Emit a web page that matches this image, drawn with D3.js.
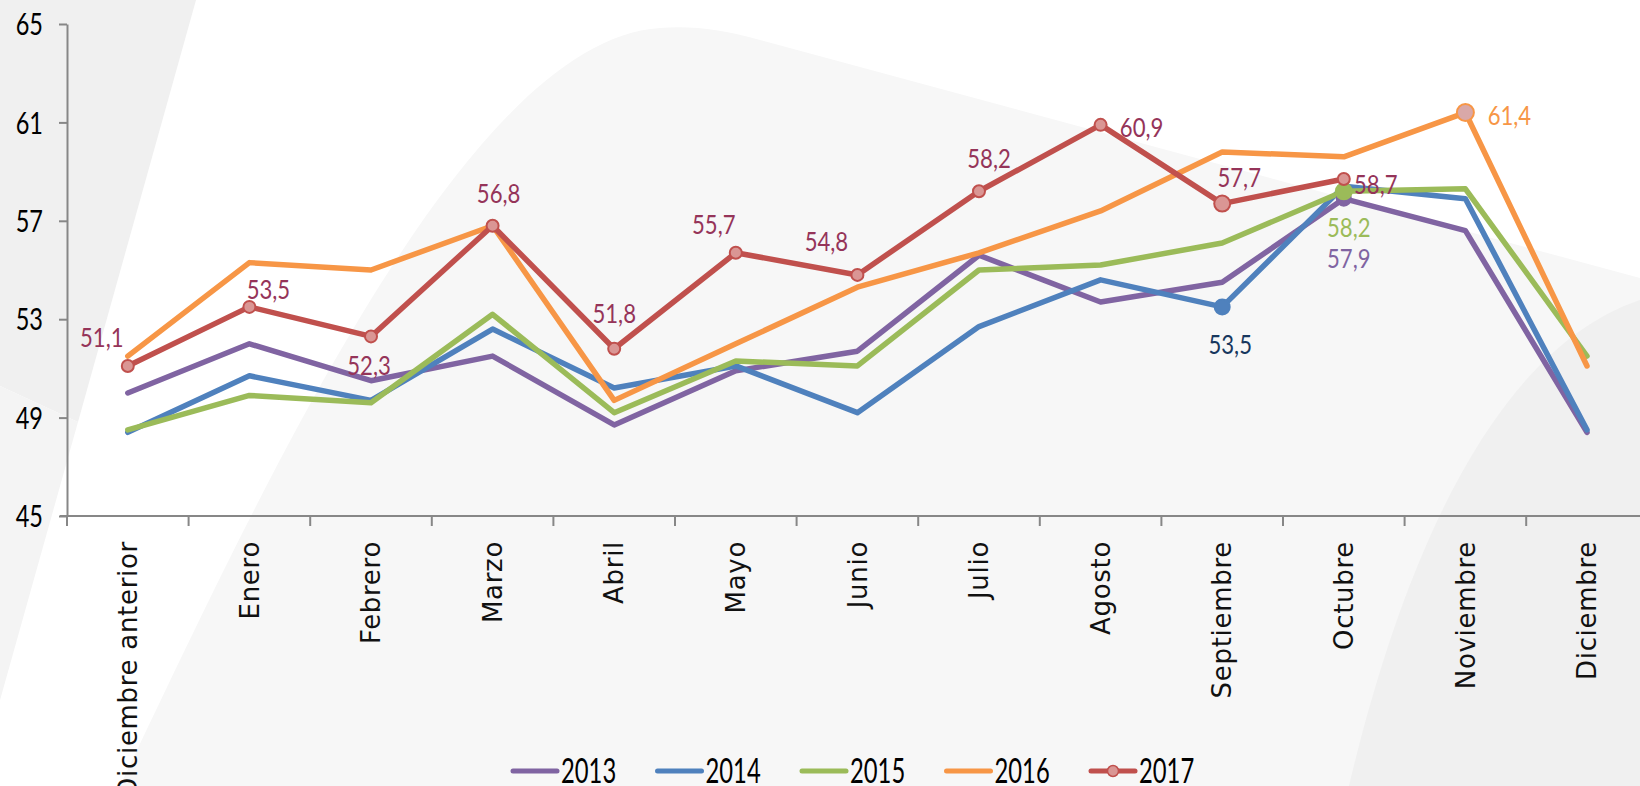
<!DOCTYPE html>
<html>
<head>
<meta charset="utf-8">
<script src="https://cdn.jsdelivr.net/npm/d3@7"></script>
<style>
  html, body { margin: 0; padding: 0; background: #ffffff; }
  svg { display: block; }
</style>
</head>
<body>
<svg id="chart" width="1640" height="786"></svg>
<script>
// ---------- DATA ----------
const categories = ["Diciembre anterior", "Enero", "Febrero", "Marzo", "Abril", "Mayo", "Junio",
  "Julio", "Agosto", "Septiembre", "Octubre", "Noviembre", "Diciembre"];
const years = ["2013", "2014", "2015", "2016", "2017"];
const values2013 = [50.0, 52.0, 50.5, 51.5, 48.7, 50.9, 51.7, 55.6, 53.7, 54.5, 57.9, 56.6, 48.4];
const values2014 = [48.4, 50.7, 49.7, 52.6, 50.2, 51.1, 49.2, 52.7, 54.6, 53.5, 58.4, 57.9, 48.5];
const values2015 = [48.5, 49.9, 49.6, 53.2, 49.2, 51.3, 51.1, 55.0, 55.2, 56.1, 58.2, 58.3, 51.5];
const values2016 = [51.5, 55.3, 55.0, 56.8, 49.7, 52.0, 54.3, 55.7, 57.4, 59.8, 59.6, 61.4, 51.1];
const values2017 = [51.1, 53.5, 52.3, 56.8, 51.8, 55.7, 54.8, 58.2, 60.9, 57.7, 58.7, null, null];
const yTicks = [45, 49, 53, 57, 61, 65];

// ---------- STYLE ----------
const colors = { "2013": "#8064A2", "2014": "#4F81BD", "2015": "#9BBB59", "2016": "#F79646", "2017": "#C0504D" };
const labelColors = { "2013": "#8064A2", "2014": "#17375E", "2015": "#9BBB59", "2016": "#F79646", "2017": "#953459" };
const seriesValues = { "2013": values2013, "2014": values2014, "2015": values2015, "2016": values2016, "2017": values2017 };

const svg = d3.select("#chart");
const W = 1640, H = 786;

// ---------- BACKGROUND DECORATION ----------
const bg = svg.append("g");
bg.append("rect").attr("width", W).attr("height", H).attr("fill", "#ffffff");
bg.append("path").attr("d", "M120,786 C270,470 470,40 660,28 Q705,24 760,40 L1640,278 L1640,786 Z").attr("fill", "#f7f7f7");
bg.append("path").attr("d", "M0,0 L196,0 L78,422 L0,386 Z").attr("fill", "#f0f0f0");
bg.append("path").attr("d", "M0,386 L78,422 L-10,736 L0,736 Z").attr("fill", "#f4f4f4");
bg.append("path").attr("d", "M1349,786 C1400,570 1490,350 1640,300 L1640,786 Z").attr("fill", "#f0f0f0");

// ---------- SCALES ----------
const x = d3.scaleBand().domain(categories).range([67, 67 + 13 * 121.6]).padding(0);
const cx = c => x(c) + x.bandwidth() / 2;
const y = d3.scaleLinear().domain([45, 65]).range([516, 24]);

const axisColor = "#878787";

// Y axis
const yAxis = svg.append("g").attr("transform", "translate(67,0)")
  .call(d3.axisLeft(y).tickValues(yTicks).tickSize(8).tickSizeOuter(0).tickFormat(""));
yAxis.select(".domain").attr("stroke", axisColor).attr("stroke-width", 2);
yAxis.selectAll(".tick line").attr("stroke", axisColor).attr("stroke-width", 2);

svg.append("g").selectAll("text").data(yTicks).join("text")
  .attr("transform", d => `translate(43,${y(d)}) scale(0.76,1)`)
  .attr("text-anchor", "end").attr("dy", "0.36em")
  .attr("font-family", "Lato, sans-serif").attr("font-size", 31).attr("fill", "#000")
  .text(d => d);

// X axis (ticks at category boundaries)
const xAxisG = svg.append("g");
xAxisG.append("line").attr("x1", 60).attr("x2", W).attr("y1", y(45)).attr("y2", y(45))
  .attr("stroke", axisColor).attr("stroke-width", 2);
xAxisG.selectAll("line.tk").data(categories).join("line").attr("class", "tk")
  .attr("x1", d => x(d)).attr("x2", d => x(d)).attr("y1", y(45)).attr("y2", y(45) + 10)
  .attr("stroke", axisColor).attr("stroke-width", 2);
xAxisG.selectAll("text").data(categories).join("text")
  .attr("transform", d => `translate(${cx(d)},541) rotate(-90)`)
  .attr("text-anchor", "end").attr("dy", "0.35em")
  .attr("font-family", "'DejaVu Sans', sans-serif").attr("font-size", 26)
  .attr("letter-spacing", 0.7).attr("fill", "#111")
  .text(d => d);

// ---------- LINES ----------
const line = d3.line()
  .defined(d => d.v !== null)
  .x(d => cx(d.c)).y(d => y(d.v));

const linesG = svg.append("g");
years.forEach(yr => {
  const pts = categories.map((c, i) => ({ c, v: seriesValues[yr][i] }));
  linesG.append("path").datum(pts)
    .attr("d", line).attr("fill", "none")
    .attr("stroke", colors[yr]).attr("stroke-width", 5.5)
    .attr("stroke-linejoin", "round").attr("stroke-linecap", "round");
});

// Highlight markers on other series
const highlights = [
  { yr: "2013", i: 10, r: 7, fill: colors["2013"], stroke: colors["2013"] },
  { yr: "2014", i: 9, r: 7.5, fill: colors["2014"], stroke: colors["2014"] },
  { yr: "2015", i: 10, r: 8, fill: colors["2015"], stroke: colors["2015"] },
  { yr: "2016", i: 11, r: 8.5, fill: "#D9A8A8", stroke: colors["2016"] }
];
svg.append("g").selectAll("circle").data(highlights).join("circle")
  .attr("cx", d => cx(categories[d.i])).attr("cy", d => y(seriesValues[d.yr][d.i]))
  .attr("r", d => d.r).attr("fill", d => d.fill).attr("stroke", d => d.stroke).attr("stroke-width", 2);

// 2017 markers
const pts2017 = categories.map((c, i) => ({ c, v: values2017[i], i })).filter(d => d.v !== null);
svg.append("g").selectAll("circle").data(pts2017).join("circle")
  .attr("cx", d => cx(d.c)).attr("cy", d => y(d.v))
  .attr("r", d => d.i === 9 ? 8 : 6)
  .attr("fill", "#DA9694").attr("stroke", colors["2017"]).attr("stroke-width", 2);

// ---------- DATA LABELS ----------
const fmt = v => d3.format(".1f")(v).replace(".", ",");
const labelLayout = [
  { yr: "2017", i: 0, dx: -26, dy: -29 },
  { yr: "2017", i: 1, dx: 19, dy: -18 },
  { yr: "2017", i: 2, dx: -2, dy: 29 },
  { yr: "2017", i: 3, dx: 6, dy: -32 },
  { yr: "2017", i: 4, dx: 0, dy: -35 },
  { yr: "2017", i: 5, dx: -22, dy: -29 },
  { yr: "2017", i: 6, dx: -31, dy: -34 },
  { yr: "2017", i: 7, dx: 10, dy: -33 },
  { yr: "2017", i: 8, dx: 41, dy: 2 },
  { yr: "2017", i: 9, dx: 17, dy: -26 },
  { yr: "2017", i: 10, dx: 32, dy: 5 },
  { yr: "2014", i: 9, dx: 8, dy: 37 },
  { yr: "2015", i: 10, dx: 5, dy: 36 },
  { yr: "2013", i: 10, dx: 5, dy: 60 },
  { yr: "2016", i: 11, dx: 44, dy: 3 }
];
svg.append("g").selectAll("text").data(labelLayout).join("text")
  .attr("transform", d => `translate(${cx(categories[d.i]) + d.dx},${y(seriesValues[d.yr][d.i]) + d.dy}) scale(0.82,1)`)
  .attr("text-anchor", "middle").attr("dy", "0.36em")
  .attr("font-family", "Lato, sans-serif").attr("font-size", 27)
  .attr("fill", d => labelColors[d.yr])
  .text(d => fmt(seriesValues[d.yr][d.i]));

// ---------- LEGEND ----------
const legend = svg.append("g");
const legX0 = 511, legStep = 144.5, legY = 771;
years.forEach((yr, k) => {
  const lx = legX0 + k * legStep;
  legend.append("line").attr("x1", lx + 2).attr("x2", lx + 46).attr("y1", legY).attr("y2", legY)
    .attr("stroke", colors[yr]).attr("stroke-width", 5).attr("stroke-linecap", "round");
  if (yr === "2017") {
    legend.append("circle").attr("cx", lx + 24).attr("cy", legY).attr("r", 5.5)
      .attr("fill", "#DA9694").attr("stroke", colors[yr]).attr("stroke-width", 1.5);
  }
  legend.append("text")
    .attr("transform", `translate(${lx + 50},${legY + 12}) scale(0.7,1)`)
    .attr("font-family", "Lato, sans-serif").attr("font-size", 34).attr("fill", "#000")
    .text(yr);
});
</script>
</body>
</html>
